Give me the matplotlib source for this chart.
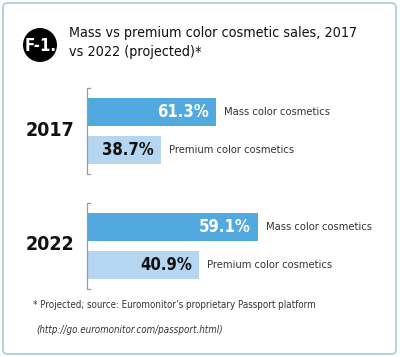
import matplotlib
matplotlib.use("Agg")
import matplotlib.pyplot as plt
from matplotlib.patches import FancyBboxPatch, Ellipse

plt.rcParams['font.family'] = ['DejaVu Sans']
plt.rcParams['font.stretch'] = 'condensed'

years = ["2017", "2022"]
categories = ["Mass color cosmetics", "Premium color cosmetics"]
values_2017 = [61.3, 38.7]
values_2022 = [59.1, 40.9]
series = [values_2017, values_2022]
title = "Mass vs premium color cosmetic sales, 2017\nvs 2022 (projected)*"
badge = "F-1."
footnote1 = "* Projected; source: Euromonitor\u2019s proprietary Passport platform"
footnote2 = "(http://go.euromonitor.com/passport.html)"

W, H = 400, 357
fig = plt.figure(figsize=(W / 100, H / 100), dpi=100)
fig.patch.set_facecolor("white")

def fx(x):
    return x / W

def fy(y):
    return 1 - y / H

box = FancyBboxPatch((fx(3), fy(354)), fx(393), (351) / H,
                     boxstyle="round,pad=0,rounding_size=0.012",
                     transform=fig.transFigure, facecolor="white",
                     edgecolor="#A9CDE3", linewidth=1.3, zorder=-5)
fig.patches.append(box)

ell = Ellipse((fx(40), fy(45)), 34 / W, 34 / H, transform=fig.transFigure,
              facecolor="black", edgecolor="none", zorder=-4)
fig.patches.append(ell)
fig.text(fx(41), fy(46), badge, color="white", fontsize=12, fontweight="bold",
         ha="center", va="center")

fig.text(fx(69), fy(26), title, color="#111111", fontsize=10.3,
         ha="left", va="top", linespacing=1.45)

mass_color = "#52A9DF"
prem_color = "#B5D6F0"

# panel: top px, bottom px, axis start value, px per unit
panels = [
    (88, 174, 8.2, 2.434),
    (203, 289, 6.26, 3.242),
]
left_px = 86.5
width_px = 300

for yr, vals, (top, bot, v0, scale) in zip(years, series, panels):
    ax = fig.add_axes([fx(left_px), fy(bot), width_px / W, (bot - top) / H])
    ax.set_xlim(v0, v0 + width_px / scale)
    sp = 37.7
    ax.set_ylim(1 + (bot - top - 62) / sp, -24 / sp)
    ypos = [0, 1]
    ax.barh(ypos, vals, height=0.76, color=[mass_color, prem_color])
    for i, (v, cat) in enumerate(zip(vals, categories)):
        ax.annotate(f"{v}%", (v, i), xytext=(-5, 0), textcoords="offset points",
                    ha="right", va="center", fontsize=12, fontweight="bold",
                    color="white" if i == 0 else "#111111")
        ax.annotate(cat, (v, i), xytext=(6, 0), textcoords="offset points",
                    ha="left", va="center", fontsize=8, color="#333333")
    ax.axis("off")
    ax.plot([0.012, 0, 0, 0.012], [1, 1, 0, 0], transform=ax.transAxes,
            color="#9A9A9A", lw=0.9, clip_on=False)
    fig.text(fx(74), fy((top + bot) / 2 - 1), yr, fontsize=14, fontweight="bold",
             ha="right", va="center", color="#111111")

fig.text(fx(33), fy(305), footnote1, fontsize=7, color="#333333",
         ha="left", va="center")
fig.text(fx(36), fy(330), footnote2, fontsize=7, color="#333333",
         ha="left", va="center", style="italic")

fig.savefig("out.png", dpi=100)
